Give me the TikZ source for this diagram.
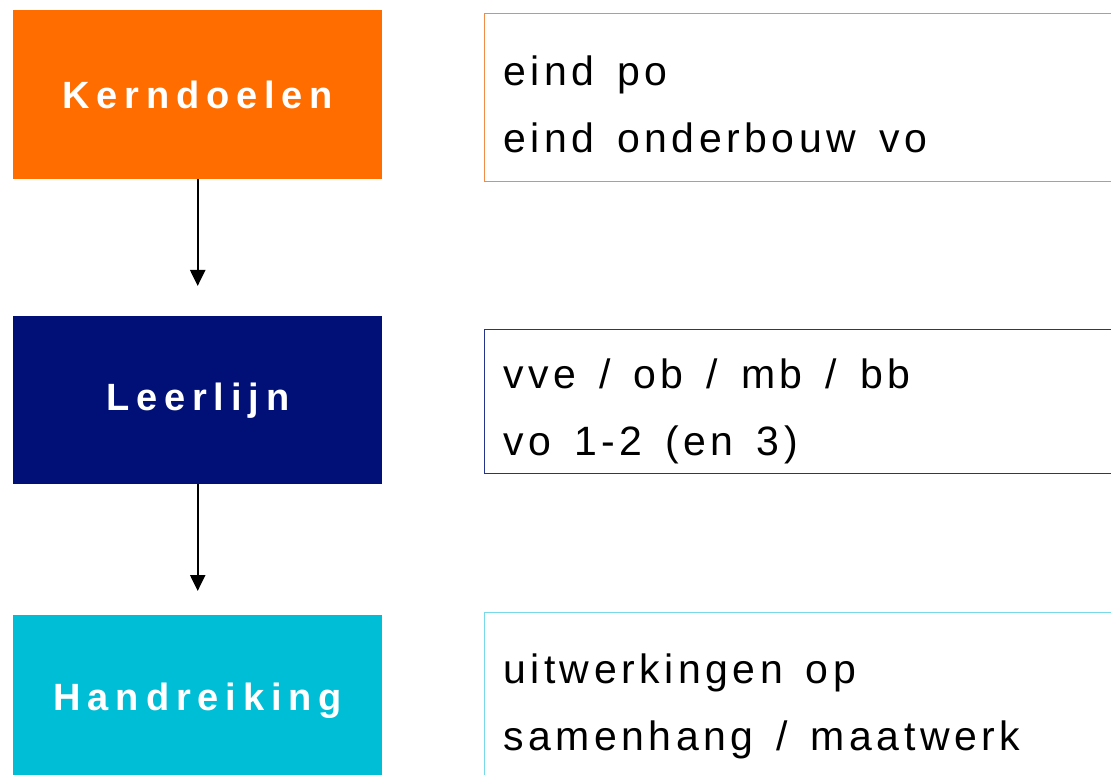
\documentclass[tikz,border=0pt]{standalone}
\usepackage{fontspec}
\usetikzlibrary{arrows.meta}
\newfontfamily\rtfont[LetterSpace=11,WordSpace=1.45]{Liberation Sans}
\newfontfamily\ltfont[LetterSpace=18]{Liberation Sans}
\definecolor{kernF}{HTML}{FF6C00}
\definecolor{leerF}{HTML}{001077}
\definecolor{handF}{HTML}{00BED6}
\definecolor{kernB}{HTML}{F08C48}
\definecolor{leerB}{HTML}{24338C}
\definecolor{handB}{HTML}{78D9E8}
\tikzset{
  lbox/.style={rectangle, draw=none, minimum width=369pt, anchor=north west,
    text=white, font=\ltfont\bfseries\fontsize{38}{40}\selectfont, inner sep=0pt},
  rbox/.style={rectangle, line width=1.4pt, fill=white, minimum width=660pt, anchor=north west, inner sep=0pt},
  rtext/.style={anchor=base west, inner sep=0pt, align=left,
    font=\rtfont\fontsize{41}{67}\selectfont, text=black},
  arr/.style={line width=2.2pt, -{Triangle[width=15pt,length=16pt]}},
}
\begin{document}
\begin{tikzpicture}[x=1pt,y=-1pt]
\useasboundingbox (0,0) rectangle (1111,775);
\clip (0,0) rectangle (1111,775);
\fill[white] (0,0) rectangle (1111,775);
% left boxes
\node[lbox, fill=kernF, minimum height=169pt] (k) at (13,10) {Kerndoelen};
\node[lbox, fill=leerF, minimum height=168pt] (l) at (13,316) {Leerlijn};
\node[lbox, fill=handF, minimum height=172pt] (h) at (13,615) {Handreiking};
% arrows
\draw[arr, shorten >=30pt] (k.south) -- (l.north);
\draw[arr, shorten >=24pt] (l.south) -- (h.north);
% right boxes
\node[rbox, draw=kernB, minimum height=168pt] (r1) at (484,13) {};
\node[rbox, draw=leerB, minimum height=144pt] (r2) at (484,329) {};
\node[rbox, draw=handB, minimum height=170pt] (r3) at (484,612) {};
% right texts (anchored at the baseline of their last line)
\node[rtext] (t1) at (503,153) {eind po\\eind onderbouw vo};
\node[rtext] (t2) at (503,455) {vve / ob / mb / bb\\vo 1-2 (en 3)};
\node[rtext] (t3) at (503,750) {uitwerkingen op\\samenhang / maatwerk};
\end{tikzpicture}
\end{document}
